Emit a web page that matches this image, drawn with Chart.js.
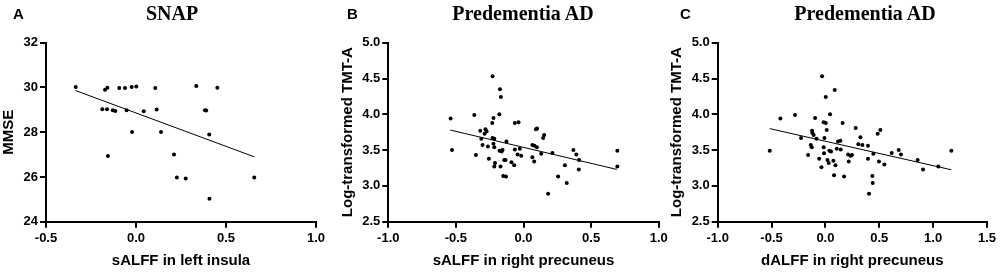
<!DOCTYPE html>
<html>
<head>
<meta charset="utf-8">
<script src="https://cdn.jsdelivr.net/npm/chart.js@4/dist/chart.umd.min.js"></script>
<style>
  html, body { margin:0; padding:0; background:#fff; }
  #wrap { position:relative; width:1000px; height:274px; background:#fff; overflow:hidden; }
  canvas { position:absolute; top:0; }
  .lbl { position:absolute; font-family:"Liberation Sans", Arial, sans-serif; font-weight:bold; font-size:15px; line-height:15px; color:#000; }
  .ttl { position:absolute; font-family:"Liberation Serif", "Times New Roman", serif; font-weight:bold; font-size:20px; line-height:20px; color:#000; text-align:center; width:240px; white-space:nowrap; }
</style>
</head>
<body>
<div id="wrap">
  <canvas id="cA" width="330" height="274" style="left:0px"></canvas>
  <canvas id="cB" width="360" height="274" style="left:330px"></canvas>
  <canvas id="cC" width="335" height="274" style="left:665px"></canvas>
  <div class="lbl" style="left:13px;top:6px">A</div>
  <div class="lbl" style="left:347px;top:6px">B</div>
  <div class="lbl" style="left:680px;top:6px">C</div>
  <div class="ttl" style="left:52px;top:3px">SNAP</div>
  <div class="ttl" style="left:403px;top:3px">Predementia AD</div>
  <div class="ttl" style="left:745px;top:3px">Predementia AD</div>
</div>
<script>
// ---- Panel A: SNAP ----
const aX = [-0.335,-0.172,-0.159,-0.093,-0.061,-0.024,0.002,0.107,0.335,0.452,
            -0.187,-0.161,-0.129,-0.115,-0.052,0.043,0.115,0.383,0.390,
            -0.022,0.139,0.407,
            -0.156,0.211,
            0.227,0.276,0.657,
            0.408];
const aY = [30.02,29.90,29.99,29.98,29.98,30.02,30.04,29.98,30.07,29.99,
            29.03,29.03,28.98,28.95,28.98,28.94,29.01,28.98,28.97,
            28.01,28.01,27.90,
            26.94,27.00,
            25.97,25.93,25.98,
            25.03];
const aLineX = [-0.335, 0.657];
const aLineY = [29.86, 26.90];
const aXTicks = [-0.5, 0.0, 0.5, 1.0];
const aYTicks = [24, 26, 28, 30, 32];

// ---- Panel B: Predementia AD, sALFF ----
const bX = [-0.539,-0.529,-0.364,-0.352,-0.320,-0.312,-0.303,-0.288,-0.281,-0.273,
            -0.263,-0.256,-0.231,-0.229,-0.229,-0.222,-0.222,-0.216,-0.216,-0.211,
            -0.216,-0.179,-0.177,-0.174,-0.170,-0.167,-0.162,-0.155,-0.150,-0.130,
            -0.143,-0.133,-0.126,-0.089,-0.069,-0.064,-0.064,-0.044,-0.037,-0.027,
            -0.017,0.066,0.081,0.099,0.066,0.079,0.092,0.100,0.131,0.145,
            0.153,0.182,0.214,0.256,0.306,0.320,0.369,0.391,0.411,0.409,
            0.694,0.694];
const bY = [3.94,3.50,3.99,3.43,3.77,3.66,3.57,3.73,3.79,3.76,
            3.55,3.38,3.88,4.53,3.67,3.95,3.59,3.66,3.54,3.32,
            3.27,4.00,3.49,4.35,3.27,4.24,3.48,3.50,3.14,3.13,
            3.36,3.36,3.62,3.33,3.29,3.88,3.51,3.44,3.89,3.52,
            3.42,3.57,3.56,3.54,3.40,3.34,3.79,3.80,3.45,3.67,
            3.71,2.89,3.46,3.13,3.29,3.04,3.50,3.44,3.36,3.23,
            3.49,3.27];
const bLineX = [-0.541, 0.690];
const bLineY = [3.78, 3.23];
const bXTicks = [-1.0, -0.5, 0.0, 0.5, 1.0];
const bYTicks = [2.5, 3.0, 3.5, 4.0, 4.5, 5.0];

// ---- Panel C: Predementia AD, dALFF ----
const cX = [-0.517,-0.418,-0.282,-0.226,-0.161,-0.136,-0.127,-0.124,-0.121,-0.109,
            -0.096,-0.083,-0.058,-0.031,-0.016,0.003,0.003,0.012,-0.009,-0.016,
            -0.013,-0.037,0.019,0.031,0.037,0.052,0.043,0.074,0.093,0.080,
            0.086,0.105,0.117,0.139,0.142,0.160,0.173,0.210,0.216,0.235,
            0.247,0.281,0.306,0.325,0.343,0.395,0.395,0.405,0.436,0.439,
            0.445,0.485,0.510,0.497,0.547,0.615,0.680,0.701,0.856,0.906,
            1.048,1.169];
const cY = [3.49,3.94,3.99,3.67,3.43,3.57,3.54,3.77,3.74,3.71,
            3.95,3.66,3.38,4.53,3.89,3.88,4.24,3.78,3.67,3.54,
            3.455,3.26,3.36,3.32,3.49,3.48,4.00,3.35,3.29,3.15,
            4.34,3.52,3.62,3.63,3.51,3.88,3.13,3.44,3.34,3.42,
            3.43,3.81,3.58,3.68,3.57,3.56,3.38,2.89,3.14,3.04,
            3.45,3.73,3.78,3.34,3.30,3.46,3.50,3.44,3.36,3.23,
            3.27,3.49];
const cLineX = [-0.517, 1.169];
const cLineY = [3.80, 3.225];
const cXTicks = [-1.0, -0.5, 0.0, 0.5, 1.0, 1.5];
const cYTicks = [2.5, 3.0, 3.5, 4.0, 4.5, 5.0];

const SANS = '"Liberation Sans", Arial, sans-serif';
const TOP = 42.7, XH = 274 - 221.7;

function pts(xs, ys) { return xs.map((x, i) => ({ x: x, y: ys[i] })); }

function makeChart(id, o) {
  const axisCommon = {
    grid: { display: true, drawOnChartArea: false, drawTicks: true, tickLength: 6, color: '#000', lineWidth: 2 },
    border: { display: true, color: '#000', width: 2 }
  };
  return new Chart(document.getElementById(id), {
    type: 'scatter',
    data: {
      datasets: [
        { data: pts(o.xs, o.ys), pointRadius: 2, pointHoverRadius: 2, pointBackgroundColor: '#000', pointBorderWidth: 0, showLine: false },
        { data: pts(o.lx, o.ly), showLine: true, pointRadius: 0, borderColor: '#000', borderWidth: 1, fill: false }
      ]
    },
    options: {
      responsive: false, animation: false, events: [],
      layout: { padding: { left: o.padLeft, right: o.padRight, top: TOP, bottom: 0 } },
      plugins: { legend: { display: false }, tooltip: { enabled: false }, title: { display: false } },
      scales: {
        x: Object.assign({}, axisCommon, {
          type: 'linear', min: o.xTicks[0], max: o.xTicks[o.xTicks.length - 1],
          afterBuildTicks: s => { s.ticks = o.xTicks.map(v => ({ value: v })); },
          afterFit: s => { s.height = XH; },
          ticks: { color: '#000', padding: 3, maxRotation: 0, autoSkip: false, font: { family: SANS, size: 13, weight: 'bold' },
                   callback: v => Number(v).toFixed(1) },
          title: { display: true, text: o.xTitle, color: '#000', padding: { top: 0, bottom: 4 }, font: { family: SANS, size: 15, weight: 'bold' } }
        }),
        y: Object.assign({}, axisCommon, {
          type: 'linear', min: o.yTicks[0], max: o.yTicks[o.yTicks.length - 1],
          afterBuildTicks: s => { s.ticks = o.yTicks.map(v => ({ value: v })); },
          afterFit: s => { s.width = o.yWidth; },
          ticks: { color: '#000', padding: 2, autoSkip: false, font: { family: SANS, size: 13, weight: 'bold' },
                   callback: v => Number(v).toFixed(o.yDec) },
          title: { display: true, text: o.yTitle, color: '#000', padding: 0, font: { family: SANS, size: 15, weight: 'bold' } }
        })
      }
    }
  });
}

makeChart('cA', { xs: aX, ys: aY, lx: aLineX, ly: aLineY, xTicks: aXTicks, yTicks: aYTicks, yDec: 0,
  xTitle: 'sALFF in left insula', yTitle: 'MMSE', padLeft: 0, yWidth: 46, padRight: 14 });
makeChart('cB', { xs: bX, ys: bY, lx: bLineX, ly: bLineY, xTicks: bXTicks, yTicks: bYTicks, yDec: 1,
  xTitle: 'sALFF in right precuneus', yTitle: 'Log-transformed TMT-A', padLeft: 9, yWidth: 49.3, padRight: 31.3 });
makeChart('cC', { xs: cX, ys: cY, lx: cLineX, ly: cLineY, xTicks: cXTicks, yTicks: cYTicks, yDec: 1,
  xTitle: 'dALFF in right precuneus', yTitle: 'Log-transformed TMT-A', padLeft: 3.3, yWidth: 49.4, padRight: 13 });
</script>
</body>
</html>
